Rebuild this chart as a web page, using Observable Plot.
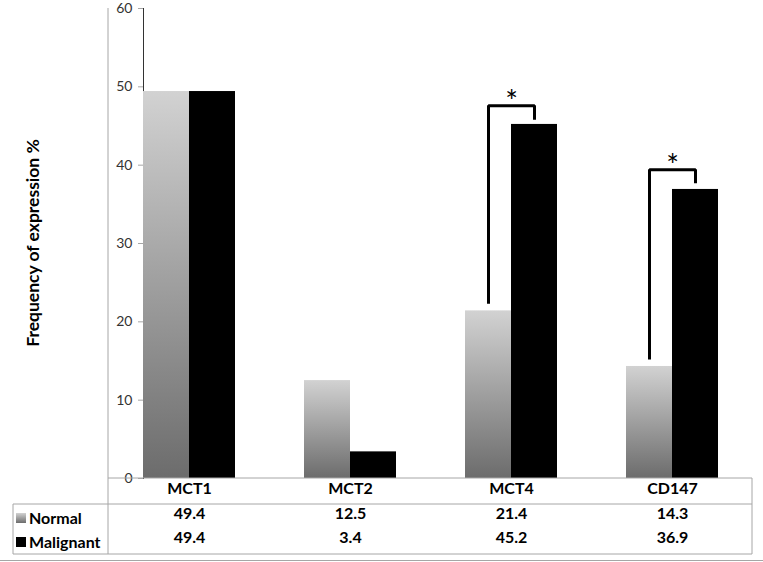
<!DOCTYPE html>
<html><head><meta charset="utf-8">
<script src="https://cdn.jsdelivr.net/npm/d3@7"></script>
<script src="https://cdn.jsdelivr.net/npm/@observablehq/plot@0.6"></script>
<style>
body{margin:0;background:#fff}
#chart svg{font-family:Lato,"Open Sans",sans-serif;overflow:visible}
</style>
</head><body><div id="chart"></div>
<script>
const categories = ["MCT1", "MCT2", "MCT4", "CD147"];
const series = ["Normal", "Malignant"];
const normalValues = [49.4, 12.5, 21.4, 14.3];
const malignantValues = [49.4, 3.4, 45.2, 36.9];
const yTicks = [0, 10, 20, 30, 40, 50, 60];
const yLabel = "Frequency of expression %";
// significance brackets
const sigCategories = ["MCT4", "CD147"];
const sigTop = [47.6, 39.4];
const sigLeftEnd = [22.3, 15.2];
const sigRightEnd = [45.8, 37.7];
const sigLabels = ["*", "*"];

const rows = categories.flatMap((c, i) => [
  {category: c, series: "Normal", value: normalValues[i]},
  {category: c, series: "Malignant", value: malignantValues[i]}
]);
const bracketPts = sigCategories.flatMap((c, i) => [
  {category: c, series: "Normal", y: sigLeftEnd[i], k: i},
  {category: c, series: "Normal", y: sigTop[i], k: i},
  {category: c, series: "Malignant", y: sigTop[i], k: i},
  {category: c, series: "Malignant", y: sigRightEnd[i], k: i}
]);
const stars = sigCategories.map((c, i) => ({category: c, y: sigTop[i], label: sigLabels[i]}));

const tf = {fontWeight: "bold", fontSize: 16, fill: "#000"};
const plot = Plot.plot({
  width: 763, height: 562,
  marginLeft: 108, marginRight: 11, marginTop: 8, marginBottom: 84,
  style: {fontFamily: "Lato, 'Open Sans', sans-serif", fontSize: "14px", color: "#333"},
  fx: {domain: categories, paddingInner: 0.43, paddingOuter: 0.215, axis: null, label: null},
  x: {domain: series, padding: 0, axis: null},
  y: {domain: [0, 60], ticks: yTicks, tickSize: 5, tickPadding: 6, label: null, line: true},
  marks: [
    Plot.barY(rows.filter(d => d.series === "Normal"), {fx: "category", x: "series", y: "value", fill: "url(#normalGrad)"}),
    Plot.barY(rows.filter(d => d.series === "Malignant"), {fx: "category", x: "series", y: "value", fill: "#000"}),
    Plot.line(bracketPts, {fx: "category", x: "series", y: "y", z: "k", stroke: "#000", strokeWidth: 3, strokeLinejoin: "miter", strokeLinecap: "butt"}),
    Plot.text(stars, {fx: "category", y: "y", text: "label", dy: -15, fontSize: 30, fill: "#000", lineAnchor: "top"}),
    Plot.text(categories, {fx: d => d, text: d => d, frameAnchor: "bottom", dy: 15, ...tf}),
    Plot.text(categories, {fx: d => d, text: (d, i) => normalValues[i].toFixed(1), frameAnchor: "bottom", dy: 40, ...tf}),
    Plot.text(categories, {fx: d => d, text: (d, i) => malignantValues[i].toFixed(1), frameAnchor: "bottom", dy: 64, ...tf})
  ]
});
document.getElementById("chart").appendChild(plot);

const svg = d3.select(plot);
const defs = svg.insert("defs", ":first-child");
const g = defs.append("linearGradient").attr("id", "normalGrad").attr("x1", 0).attr("y1", 0).attr("x2", 0).attr("y2", 1);
g.append("stop").attr("offset", "0%").attr("stop-color", "#d2d2d2");
g.append("stop").attr("offset", "100%").attr("stop-color", "#6c6c6c");

// restyle y axis
svg.selectAll("[aria-label='y-axis tick'] path, [aria-label='y-axis tick']").attr("stroke", "#a6a6a6");
svg.selectAll("[aria-label='frame'], [aria-label='y-axis line']").attr("stroke", "#a6a6a6");

const y0 = plot.scale("y").apply(0);
const L = 108, R = 752, Lt = 13;
const rowSep = y0 + 26, bottom = 554;
const lines = [
  [L, 8, L, bottom], [L, y0, R, y0], [R, y0, R, bottom],
  [Lt, rowSep, R, rowSep], [Lt, bottom, R, bottom], [Lt, rowSep, Lt, bottom],
  [0, 560.5, 763, 560.5]
];
svg.append("g").selectAll("line").data(lines).join("line")
  .attr("x1", d => d[0]).attr("y1", d => d[1]).attr("x2", d => d[2]).attr("y2", d => d[3])
  .attr("stroke", "#a6a6a6").attr("stroke-width", 1);

// legend in table
const lg = svg.append("g");
series.forEach((s, i) => {
  const cy = y0 + 40 + i * 24;
  lg.append("rect").attr("x", 16).attr("y", cy - 5).attr("width", 10).attr("height", 10)
    .attr("fill", i === 0 ? "url(#normalGrad)" : "#000");
  lg.append("text").attr("x", 29).attr("y", cy).attr("dy", "0.35em")
    .style("text-anchor", "start").style("font-size", "16px").style("font-weight", "bold")
    .attr("fill", "#000").text(s);
});
// y label
svg.append("text").attr("transform", `translate(33,${(8 + y0) / 2}) rotate(-90)`)
  .style("text-anchor", "middle").attr("dy", "0.35em").style("font-size", "17.5px").style("font-weight", "bold")
  .attr("fill", "#000").text(yLabel);
</script>
</body></html>
